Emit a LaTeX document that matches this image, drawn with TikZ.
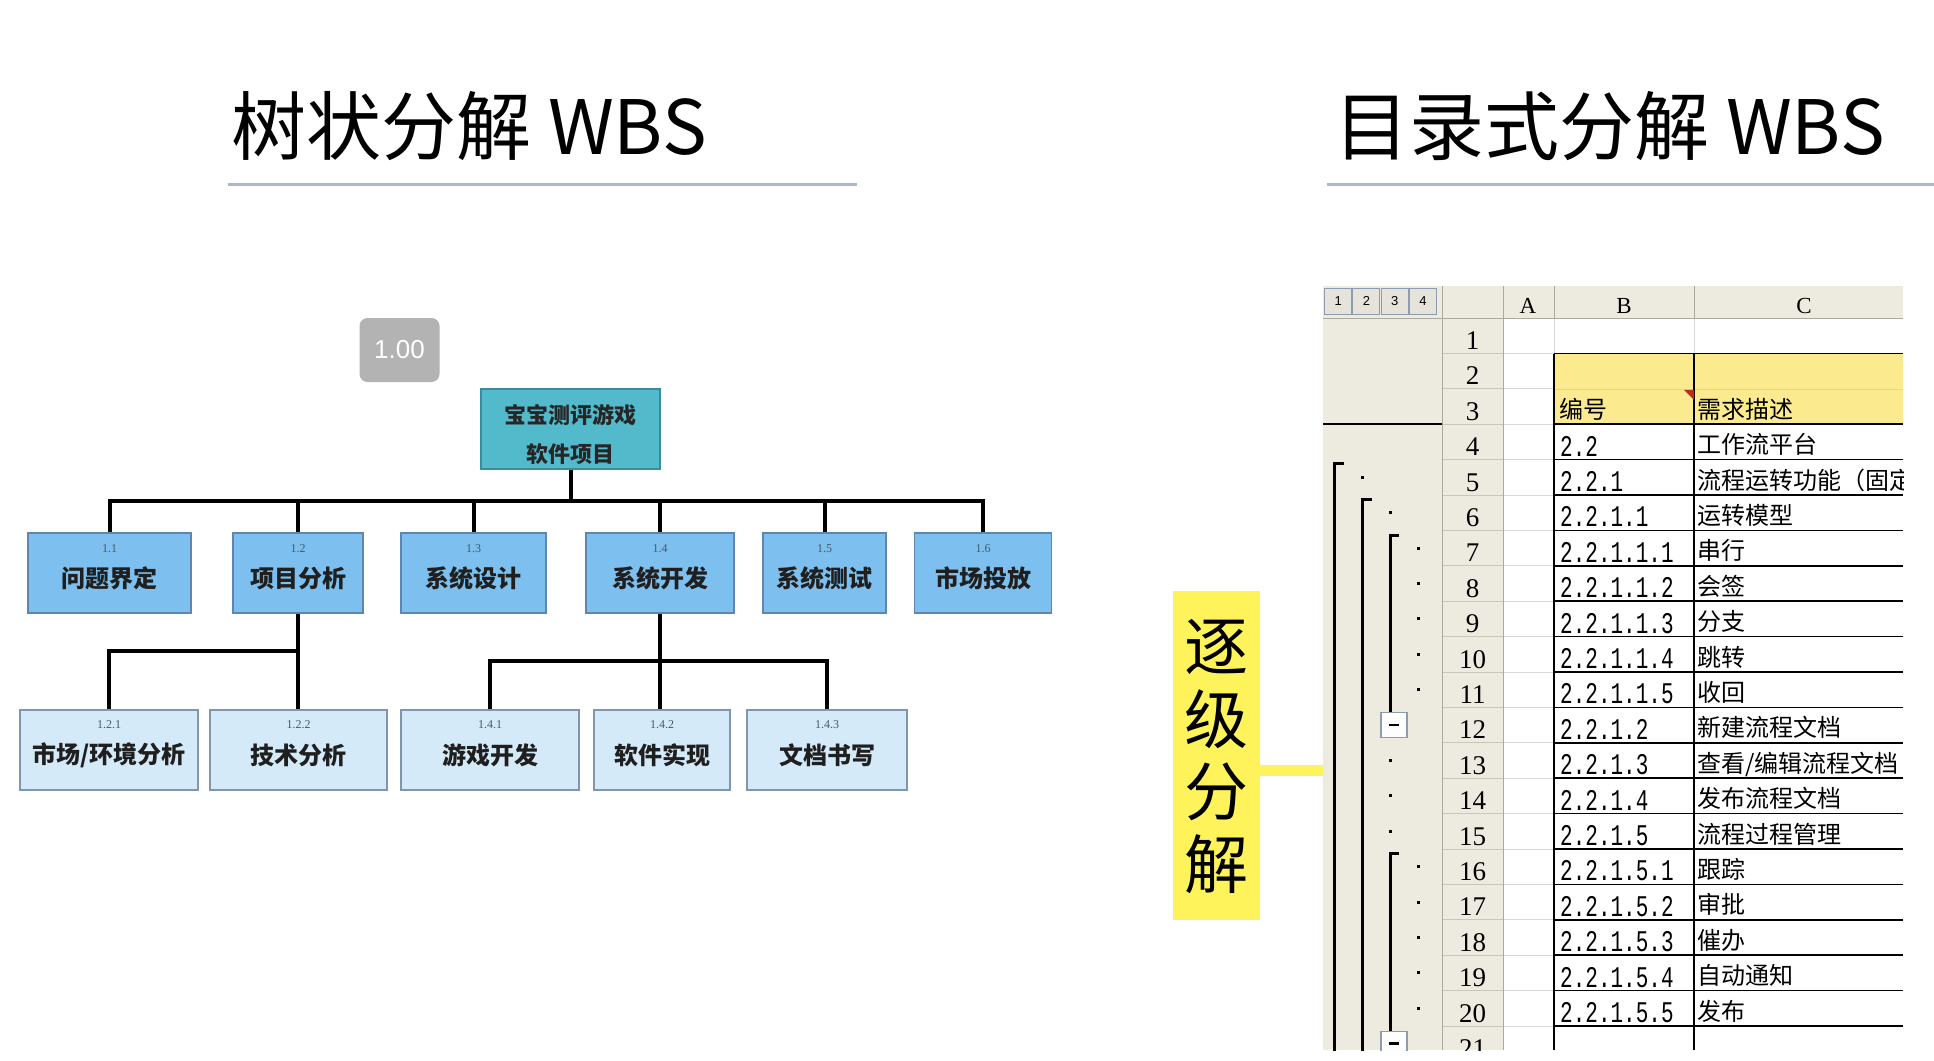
\documentclass[tikz,border=0pt]{standalone}
\usepackage{fontspec}
\setmainfont{Liberation Serif}
\newfontfamily\cjk{Noto Sans CJK SC}
\newfontfamily\cellmono[FakeStretch=0.7]{Liberation Mono}
\newfontfamily\serifnum{Liberation Serif}
\newfontfamily\uisans{Liberation Sans}

\definecolor{rootfill}{HTML}{52BACB}
\definecolor{rootline}{HTML}{3A8C9C}
\definecolor{lvonefill}{HTML}{7DBFEE}
\definecolor{lvoneline}{HTML}{5E86AE}
\definecolor{lvtwofill}{HTML}{D5EAF9}
\definecolor{lvtwoline}{HTML}{8196AC}
\definecolor{titlerule}{HTML}{A9B7CF}
\definecolor{badgegray}{HTML}{B3B3B3}
\definecolor{tagyellow}{HTML}{FFF35C}
\definecolor{sheetbeige}{HTML}{EDEAE0}
\definecolor{sheetgrid}{HTML}{C9C6BA}
\definecolor{cellgrid}{HTML}{D8D8D8}
\definecolor{headyellow}{HTML}{FCEB8E}
\definecolor{yellowgrid}{HTML}{E3D58E}
\definecolor{notered}{HTML}{B5301E}
\definecolor{boxnumcol}{HTML}{4A5868}
\definecolor{btnline}{HTML}{8C9BB0}
\definecolor{btnfill}{HTML}{E6E4DA}

\tikzset{
  wire/.style={line width=4pt, black},
  rootbox/.style={draw=rootline, line width=1.5pt, fill=rootfill, minimum width=179pt, minimum height=80pt, inner sep=0pt},
  lvonebox/.style={draw=lvoneline, line width=1.5pt, fill=lvonefill, minimum height=80pt, inner sep=0pt},
  lvtwobox/.style={draw=lvtwoline, line width=1.5pt, fill=lvtwofill, minimum height=80pt, inner sep=0pt},
  boxnum/.style={font=\serifnum\fontsize{12}{14}\selectfont, text=boxnumcol, inner sep=0pt},
  boxlabel/.style={font=\cjk\bfseries\fontsize{24}{28}\selectfont, text=black!88, inner sep=0pt},
  roottext/.style={font=\cjk\bfseries\fontsize{22}{39}\selectfont, text=black!85, align=center, inner sep=0pt},
  titletext/.style={font=\cjk\fontsize{75}{80}\selectfont, text=black, inner sep=0pt, anchor=base west},
  titleline/.style={draw=titlerule, line width=3pt},
  badge/.style={fill=badgegray, rounded corners=8pt, minimum width=80pt, minimum height=64pt, inner sep=0pt,
    font=\uisans\fontsize{26}{30}\selectfont, text=white},
  tagbox/.style={fill=tagyellow, minimum width=87pt, minimum height=329pt, inner sep=0pt},
  tagtext/.style={font=\cjk\fontsize{64}{72.7}\selectfont, align=center, inner sep=0pt},
  tagbar/.style={draw=tagyellow, line width=11pt},
  headrule/.style={draw=sheetgrid!85!black, line width=1pt},
  gridline/.style={draw=sheetgrid, line width=1pt},
  cellline/.style={draw=cellgrid, line width=1pt},
  cellrule/.style={draw=black, line width=1.6pt},
  rowno/.style={font=\serifnum\fontsize{27}{30}\selectfont, anchor=base, inner sep=0pt},
  colhead/.style={font=\serifnum\fontsize{23}{26}\selectfont, anchor=base, inner sep=0pt},
  codetext/.style={font=\cellmono\fontsize{30}{32}\selectfont, anchor=base west, inner sep=0pt},
  desctext/.style={font=\cjk\fontsize{24}{26}\selectfont, anchor=base west, inner sep=0pt},
  lvlbtn/.style={draw=btnline, fill=btnfill, line width=1pt, minimum width=27pt, minimum height=26pt, inner sep=0pt,
    font=\uisans\fontsize{13}{15}\selectfont},
  bracket/.style={draw=black, line width=3pt},
  outdot/.style={fill=black},
  foldbox/.style={draw=btnline, fill=white!92!sheetbeige, line width=1.2pt, minimum width=26pt, minimum height=25pt, inner sep=0pt},
  foldminus/.style={draw=black, line width=2.6pt},
}

\begin{document}
\begin{tikzpicture}[x=1pt,y=-1pt]
\useasboundingbox (0,0) rectangle (1934,1060);
\fill[white] (0,0) rectangle (1934,1060);

% ---------- headings ----------
\node[titletext] (ttree) at (231,154) {树状分解 WBS};
\node[titletext] (tlist) at (1334,154) {目录式分解 WBS};
\draw[titleline] (228,184) -- (857,184);
\draw[titleline] (1327,184) -- (1934,184);

% ---------- tree decomposition ----------
\node[badge] (zoombadge) at (399.5,350) {1.00};

\node[rootbox] (root) at (570.5,429) {};
\node[roottext] (roottxt) at ([yshift=-6pt]root.center) {宝宝测评游戏\\软件项目};

% first level
\foreach \nm/\cx/\bw/\bnum/\btxt in {
  p11/109.5/163/1.1/问题界定,
  p12/298/130/1.2/项目分析,
  p13/473.5/145/1.3/系统设计,
  p14/660/148/1.4/系统开发,
  p15/824.5/123/1.5/系统测试,
  p16/983/137/1.6/市场投放}{
  \node[lvonebox, minimum width=\bw pt] (\nm) at (\cx,573) {};
  \node[boxnum] (\nm num) at ([yshift=-16pt]\nm.north) {\bnum};
  \node[boxlabel] (\nm txt) at ([yshift=-5pt]\nm.center) {\btxt};
}

% second level
\foreach \nm/\cx/\bw/\bnum/\btxt in {
  p121/109/178/1.2.1/{市场/环境分析},
  p122/298.5/177/1.2.2/技术分析,
  p141/490/178/1.4.1/游戏开发,
  p142/662/136/1.4.2/软件实现,
  p143/827/160/1.4.3/文档书写}{
  \node[lvtwobox, minimum width=\bw pt] (\nm) at (\cx,750) {};
  \node[boxnum] (\nm num) at ([yshift=-15pt]\nm.north) {\bnum};
  \node[boxlabel] (\nm txt) at ([yshift=-5pt]\nm.center) {\btxt};
}

% connectors
\coordinate (busy) at (0,501);
\coordinate (bustwo) at (0,651);
\coordinate (busfour) at (0,661);
\draw[wire] (root.south) -- (root.south |- busy);
\draw[wire] (p11.north) -- (p11.north |- busy) -- (p16.north |- busy) -- (p16.north);
\foreach \nm in {p12,p13,p14,p15}
  \draw[wire] (\nm.north) -- (\nm.north |- busy);
\draw[wire] (p12.south) -- (p12.south |- p122.north);
\draw[wire] (p12.south |- bustwo) -- (p121.north |- bustwo) -- (p121.north);
\draw[wire] (p14.south) -- (p14.south |- p142.north);
\draw[wire] (p141.north) -- (p141.north |- busfour) -- (p143.north |- busfour) -- (p143.north);

% ---------- label for the outline ----------
\node[tagbox] (tag) at (1216.5,755.5) {};
\node[tagtext] (tagword) at ([yshift=-1pt]tag.center) {逐\\级\\分\\解};
\coordinate (barend) at (1326,770);
\draw[tagbar] (tag.east |- barend) -- (barend);

% ---------- outline spreadsheet ----------
\begin{scope}
\clip (1323,286) rectangle (1903,1050);
\fill[white] (1323,286) rectangle (1903,1050);
\fill[sheetbeige] (1323,286) rectangle (1503,1050);
\fill[sheetbeige] (1503,286) rectangle (1903,318);
\fill[headyellow] (1554,354.4) rectangle (1903,424.2);

% light grid
\foreach \rr in {1,...,20}{
  \draw[gridline] (1442,{318+\rr*35.4}) -- (1503,{318+\rr*35.4});
  \draw[cellline] (1503,{318+\rr*35.4}) -- (1554,{318+\rr*35.4});
}
\draw[cellline] (1554,318) -- (1554,354.4);
\draw[cellline] (1694,318) -- (1694,354.4);
\draw[draw=yellowgrid, line width=1pt] (1554,389.8) -- (1903,389.8);

% bordered block in columns B and C
\foreach \rr in {1,3,4,...,20}
  \draw[cellrule] (1554,{318+\rr*35.4}) -- (1903,{318+\rr*35.4});
\draw[cellrule] (1554,354.4) -- (1554,1050);
\draw[cellrule] (1694,354.4) -- (1694,1050);
\fill[notered] (1684,389.8) -- (1694,389.8) -- (1694,399.8) -- cycle;

% headers
\draw[headrule] (1323,318) -- (1903,318);
\draw[headrule] (1442,286) -- (1442,1050);
\draw[headrule] (1503,286) -- (1503,1050);
\draw[headrule] (1554,286) -- (1554,318);
\draw[headrule] (1694,286) -- (1694,318);
\draw[cellrule] (1323,424.2) -- (1442,424.2);

\node[colhead] (colA) at (1528,313) {A};
\node[colhead] (colB) at (1624,313) {B};
\node[colhead] (colC) at (1804,313) {C};

\foreach \k in {1,...,4}
  \node[lvlbtn] (btn\k) at ({1324+28.3*(\k-0.5)},301) {\k};

\foreach \rr in {1,...,21}
  \node[rowno] (rowno\rr) at (1472.5,{318+\rr*35.4-4}) {\rr};

% cell contents
\node[desctext] (code3) at (1559,{318+3*35.4-6}) {编号};
\node[desctext] (desc3) at (1697,{318+3*35.4-6}) {需求描述};
\foreach \rr/\cc/\dd in {
  4/2.2/工作流平台,
  5/2.2.1/流程运转功能（固定,
  6/2.2.1.1/运转模型,
  7/2.2.1.1.1/串行,
  8/2.2.1.1.2/会签,
  9/2.2.1.1.3/分支,
  10/2.2.1.1.4/跳转,
  11/2.2.1.1.5/收回,
  12/2.2.1.2/新建流程文档,
  13/2.2.1.3/{查看/编辑流程文档},
  14/2.2.1.4/发布流程文档,
  15/2.2.1.5/流程过程管理,
  16/2.2.1.5.1/跟踪,
  17/2.2.1.5.2/审批,
  18/2.2.1.5.3/催办,
  19/2.2.1.5.4/自动通知,
  20/2.2.1.5.5/发布}{
  \node[codetext] (code\rr) at (1560,{318+\rr*35.4-3.5}) {\cc};
  \node[desctext] (desc\rr) at (1697,{318+\rr*35.4-6}) {\dd};
}

% outline levels in the gutter
\node[foldbox] (fold12) at (1394,725.1) {};
\node[foldbox] (fold21) at (1394,1043.7) {};
\draw[foldminus] ([xshift=-5pt]fold12.center) -- ([xshift=5pt]fold12.center);
\draw[foldminus] ([xshift=-5pt]fold21.center) -- ([xshift=5pt]fold21.center);

\coordinate (lone) at (1334,463.6);
\coordinate (ltwo) at (1362,499);
\coordinate (lthreea) at (1390,535);
\coordinate (lthreeb) at (1390,853);
\draw[bracket] ([xshift=10pt]lone) -- (lone) -- (1334,1060);
\draw[bracket] ([xshift=10pt]ltwo) -- (ltwo) -- (1362,1060);
\draw[bracket] ([xshift=9pt]lthreea) -- (lthreea) -- (lthreea |- fold12.north);
\draw[bracket] ([xshift=9pt]lthreeb) -- (lthreeb) -- (lthreeb |- fold21.north);

\fill[outdot] (1360.5,{318+4.5*35.4-1.5}) rectangle ++(3,3);
\fill[outdot] (1388.5,{318+5.5*35.4-1.5}) rectangle ++(3,3);
\foreach \rr in {7,...,11,16,17,18,19,20}
  \fill[outdot] (1416.5,{318+(\rr-0.5)*35.4-1.5}) rectangle ++(3,3);
\foreach \rr in {13,14,15}
  \fill[outdot] (1388.5,{318+(\rr-0.5)*35.4-1.5}) rectangle ++(3,3);
\end{scope}
\end{tikzpicture}
\end{document}
